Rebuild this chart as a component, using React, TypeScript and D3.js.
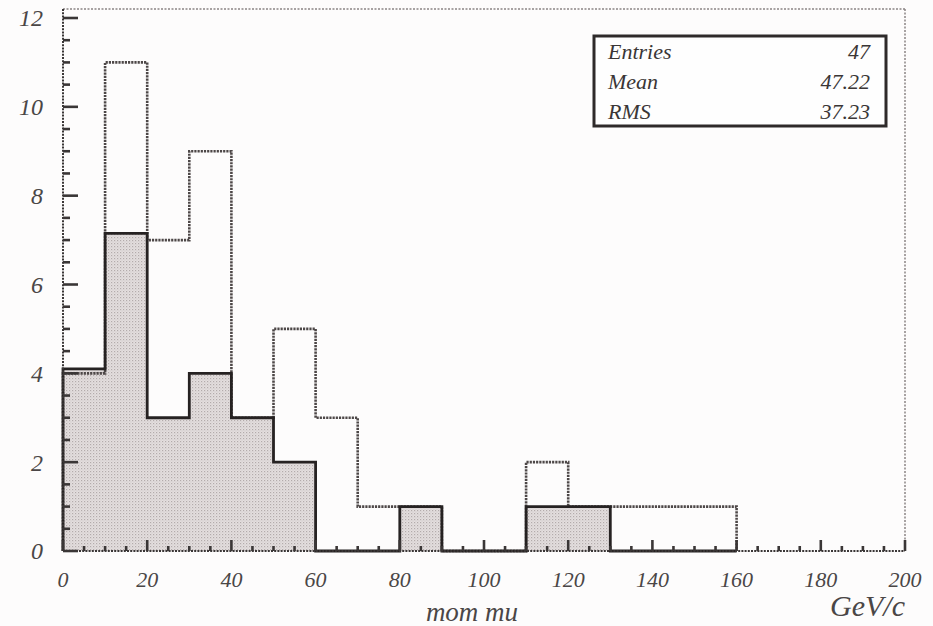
import React from "react";
import * as d3 from "d3";

// Histogram of muon momentum: all candidates (outline) and selected muons (shaded)
const binStarts = [0, 10, 20, 30, 40, 50, 60, 70, 80, 90, 100, 110, 120, 130, 140, 150];
const binWidth = 10;
const allCounts = [4, 11, 7, 9, 3, 5, 3, 1, 1, 0, 0, 2, 1, 1, 1, 1];
const muCounts = [4.1, 7.15, 3, 4, 3, 2, 0, 0, 1, 0, 0, 1, 1, 0, 0, 0];

const xTickValues = [0, 20, 40, 60, 80, 100, 120, 140, 160, 180, 200];
const yTickValues = [0, 2, 4, 6, 8, 10, 12];

const statLabels = ["Entries", "Mean", "RMS"];
const statValues = ["47", "47.22", "37.23"];

const W = 933;
const H = 626;
const left = 63;
const right = 905;
const bottom = 551;
const top = 18; // position of y = 12
const frameTop = 9;

const FONT = "'Liberation Serif', 'DejaVu Serif', serif";

export default function App() {
  const x = d3.scaleLinear().domain([0, 200]).range([left, right]);
  const y = d3.scaleLinear().domain([0, 12]).range([bottom, top]);

  const toPoints = (counts: number[]) => {
    const pts: [number, number][] = [[binStarts[0], 0]];
    counts.forEach((c, i) => pts.push([binStarts[i], c]));
    const last = binStarts[binStarts.length - 1] + binWidth;
    pts.push([last, counts[counts.length - 1]]);
    pts.push([last, 0]);
    return pts;
  };

  const stepLine = d3
    .line<[number, number]>()
    .x((d) => x(d[0]))
    .y((d) => y(d[1]))
    .curve(d3.curveStepAfter);

  const stepArea = d3
    .area<[number, number]>()
    .x((d) => x(d[0]))
    .y0(y(0))
    .y1((d) => y(d[1]))
    .curve(d3.curveStepAfter);

  const allPts = toPoints(allCounts);
  const muPts = toPoints(muCounts);

  const yMinor = d3.range(0, 12.01, 0.5);
  const xMinor = d3.range(0, 200.01, 5);

  const axisColor = "#3a3636";
  const labelColor = "#4a4646";

  return (
    <svg
      width={W}
      height={H}
      style={{ position: "absolute", left: 0, top: 0, background: "#fdfcfc" }}
    >
      <defs>
        <pattern id="dots" width="3" height="3" patternUnits="userSpaceOnUse">
          <rect width="3" height="3" fill="#e4dfdf" />
          <rect x="0" y="0" width="1.2" height="1.2" fill="#b3abab" />
          <rect x="1.5" y="1.5" width="1" height="1" fill="#c8c1c1" />
        </pattern>
      </defs>

      {/* frame (top and right, dotted) */}
      <line x1={left} x2={right} y1={frameTop} y2={frameTop} stroke="#8a8484" strokeWidth={1.5} strokeDasharray="2,1.5" />
      <line x1={right} x2={right} y1={frameTop} y2={bottom} stroke="#8a8484" strokeWidth={1.5} strokeDasharray="2,1.5" />

      {/* shaded histogram */}
      <path d={stepArea(muPts) ?? ""} fill="url(#dots)" stroke="none" />

      {/* outline histogram */}
      <path
        d={stepLine(allPts) ?? ""}
        fill="none"
        stroke="#4d4747"
        strokeWidth={2.6}
        strokeDasharray="2.2,1"
      />
      <path d={stepLine(muPts) ?? ""} fill="none" stroke="#262222" strokeWidth={2.8} />

      {/* axes */}
      <line x1={left} x2={left} y1={frameTop} y2={bottom} stroke={axisColor} strokeWidth={2} strokeDasharray="2,1.2" />
      <line x1={left} x2={right} y1={bottom} y2={bottom} stroke={axisColor} strokeWidth={2} strokeDasharray="2,1.2" />

      {yMinor.map((v) => {
        const major = Math.abs(v - Math.round(v / 2) * 2) < 1e-6;
        return (
          <line
            key={"yt" + v}
            x1={left}
            x2={left + (major ? 15 : 7)}
            y1={y(v)}
            y2={y(v)}
            stroke={axisColor}
            strokeWidth={2.6}
          />
        );
      })}
      {xMinor.map((v) => {
        const major = v % 20 === 0;
        return (
          <line
            key={"xt" + v}
            x1={x(v)}
            x2={x(v)}
            y1={bottom}
            y2={bottom - (major ? 11 : 5)}
            stroke={axisColor}
            strokeWidth={2.6}
          />
        );
      })}

      {/* tick labels */}
      {yTickValues.map((v) => (
        <text
          key={"yl" + v}
          x={43}
          y={y(v)}
          dy="0.35em"
          textAnchor="end"
          fontFamily={FONT}
          fontStyle="italic"
          fontSize={24}
          fill={labelColor}
        >
          {v}
        </text>
      ))}
      {xTickValues.map((v) => (
        <text
          key={"xl" + v}
          x={x(v)}
          y={587}
          textAnchor="middle"
          fontFamily={FONT}
          fontStyle="italic"
          fontSize={22}
          fill={labelColor}
        >
          {v}
        </text>
      ))}

      {/* axis titles */}
      <text x={472} y={621} textAnchor="middle" fontFamily={FONT} fontStyle="italic" fontSize={27} fill={labelColor}>
        mom mu
      </text>
      <text x={905} y={616} textAnchor="end" fontFamily={FONT} fontStyle="italic" fontSize={30} fill={labelColor}>
        GeV/c
      </text>

      {/* statistics box */}
      <rect x={594} y={36} width={292} height={90} fill="#fefefe" stroke="#2e2a2a" strokeWidth={3} />
      {statLabels.map((s, i) => (
        <g key={s}>
          <text x={608} y={59 + i * 30} fontFamily={FONT} fontStyle="italic" fontSize={22} fill="#3a3636">
            {s}
          </text>
          <text x={870} y={59 + i * 30} textAnchor="end" fontFamily={FONT} fontStyle="italic" fontSize={22} fill="#3a3636">
            {statValues[i]}
          </text>
        </g>
      ))}
    </svg>
  );
}
